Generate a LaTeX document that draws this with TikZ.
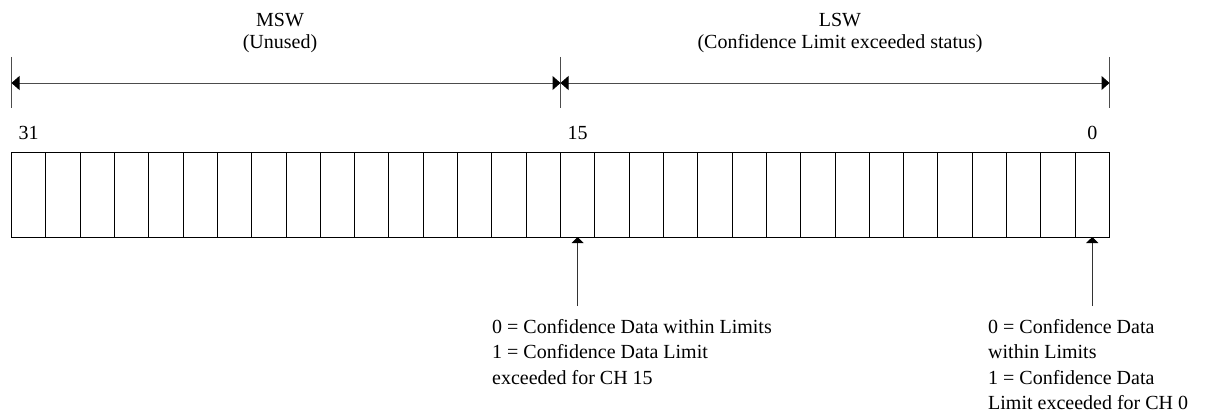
\documentclass[tikz,border=0pt]{standalone}
\usepackage{fontspec}
\setmainfont{Liberation Serif}
\usetikzlibrary{arrows.meta,positioning}

\begin{document}
\begin{tikzpicture}[x=1pt,y=-1pt,
    font=\fontsize{20}{25.5}\selectfont,
    cell/.style={draw, line width=0.9pt, minimum width=34.31pt, minimum height=85pt, inner sep=0pt, outer sep=0pt},
    tick/.style={draw=black!70, line width=1pt},
    span/.style={black!70, line width=1pt, {Triangle[length=8pt,width=14pt,black]}-{Triangle[length=8pt,width=14pt,black]}},
    pointer/.style={black!80, line width=1pt, -{Triangle[length=6pt,width=12pt,black]}},
    head/.style={align=center, font=\fontsize{20}{22}\selectfont},
    note/.style={align=left, anchor=north west, inner sep=0pt}]
  \useasboundingbox (0,0) rectangle (1207,412);

  % 32-bit register, bit 31 on the left
  \foreach \i in {0,...,31} {
    \pgfmathtruncatemacro{\bit}{31-\i}
    \node[cell] (bit\bit) at (11.5+34.31*\i+17.155, 194.5) {};
  }

  % word boundaries
  \coordinate (msb) at (11.5,83);
  \coordinate (mid) at (560.5,83);
  \coordinate (lsb) at (1109.5,83);
  \draw[tick] ([yshift=26pt]msb) -- ([yshift=-25pt]msb);
  \draw[tick] ([yshift=26pt]mid) -- ([yshift=-25pt]mid);
  \draw[tick] ([yshift=26pt]lsb) -- ([yshift=-25pt]lsb);
  \draw[span] (msb) -- (mid);
  \draw[span] (mid) -- (lsb);

  \node[head] (msw) at (280,33) {MSW\\(Unused)};
  \node[head] (lsw) at (840,33) {LSW\\(Confidence Limit exceeded status)};

  % bit numbers
  \node[above=12pt of bit31.north, inner sep=0pt] (n31) {31};
  \node[above=12pt of bit15.north, inner sep=0pt] (n15) {15};
  \node[above=12pt of bit0.north, inner sep=0pt] (n0) {0};

  % status bits
  \coordinate[below=69pt of bit15.south] (foot15);
  \coordinate[below=69pt of bit0.south] (foot0);
  \draw[pointer] (foot15) -- (bit15.south);
  \draw[pointer] (foot0) -- (bit0.south);

  \node[note] (ch15) at (492,319) {0 = Confidence Data within Limits\\1 = Confidence Data Limit\\exceeded for CH 15};
  \node[note] (ch0) at (988,319) {0 = Confidence Data\\within Limits\\1 = Confidence Data\\Limit exceeded for CH 0};
\end{tikzpicture}
\end{document}
